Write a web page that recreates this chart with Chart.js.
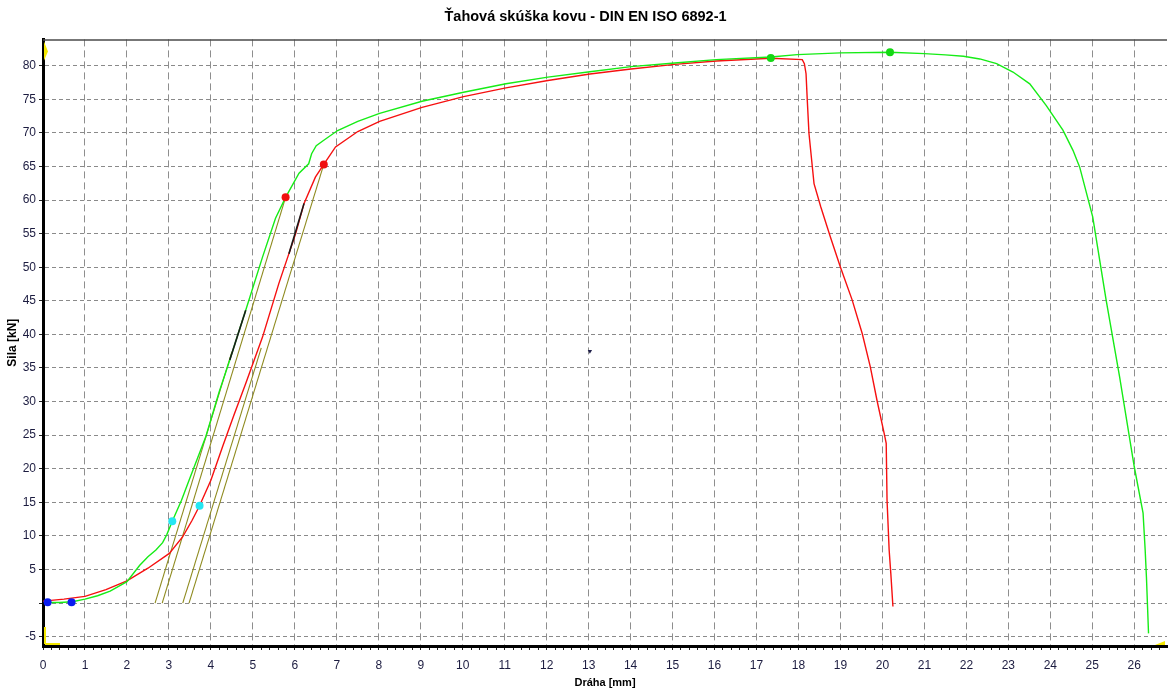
<!DOCTYPE html>
<html>
<head>
<meta charset="utf-8">
<title>Ťahová skúška kovu</title>
<script src="https://cdn.jsdelivr.net/npm/chart.js@4.4.1/dist/chart.umd.min.js"></script>
<style>
  html, body { margin: 0; padding: 0; background: #fff; }
  #wrap { width: 1171px; height: 691px; }
</style>
</head>
<body>
<div id="wrap"><canvas id="chart" width="1171" height="691"></canvas></div>
<script>
// Tensile test, two specimens

const titleText = 'Ťahová skúška kovu - DIN EN ISO 6892-1';
const xTitle = 'Dráha [mm]';
const yTitle = 'Sila [kN]';

// specimen 1 (green)
const greenX = [0.05, 0.4, 0.7, 1.0, 1.3, 1.6, 2.0, 2.3, 2.5, 2.69, 2.85, 2.95, 3.08, 3.3, 3.48, 3.88,
  4.2, 4.45, 4.67, 4.83, 5.23, 5.54, 5.78, 6.1, 6.33, 6.4, 6.51, 6.69, 7.02, 7.5, 8.02, 9.03, 10.02,
  11.03, 12.03, 13.03, 14.01, 15.05, 16.04, 17.34, 17.97, 19.0, 20.18, 21.0, 21.5, 21.93, 22.32, 22.72,
  23.11, 23.51, 23.9, 24.3, 24.54, 24.7, 25.01, 25.33, 25.65, 26.0, 26.21, 26.26, 26.29, 26.34];
const greenY = [0.1, 0.1, 0.2, 0.6, 1.1, 1.8, 3.2, 5.6, 6.9, 7.9, 9.0, 10.2, 12.2, 15.3, 18.3, 24.8,
  31.5, 36.2, 40.5, 43.6, 51.5, 57.3, 60.4, 64.0, 65.4, 66.9, 68.1, 68.9, 70.35, 71.7, 72.9, 74.7, 76.05,
  77.3, 78.3, 79.1, 79.85, 80.4, 80.9, 81.3, 81.65, 81.9, 82.0, 81.8, 81.6, 81.4, 81.0, 80.3,
  79.05, 77.3, 74.1, 70.4, 67.4, 64.9, 57.5, 45.1, 33.7, 20.3, 13.4, 7.9, 3.9, -4.5];

// specimen 2 (red)
const redX = [0.0, 0.5, 1.0, 1.5, 2.0, 2.5, 3.01, 3.33, 3.55, 3.73, 4.0, 4.28, 4.55, 4.83, 5.23, 5.62,
  6.02, 6.22, 6.49, 6.69, 6.97, 7.5, 8.02, 9.03, 10.02, 11.03, 12.03, 13.03, 14.01, 15.05, 16.04, 17.34,
  18.09, 18.14, 18.18, 18.21, 18.25, 18.37, 18.53, 18.76, 19.0, 19.28, 19.52, 19.71, 19.87, 20.04, 20.09,
  20.11, 20.16, 20.2, 20.25];
const redY = [0.3, 0.6, 1.0, 2.0, 3.3, 5.2, 7.4, 9.9, 12.3, 14.5, 18.3, 23.3, 28.0, 32.7, 39.6, 47.6,
  55.0, 59.5, 63.4, 65.3, 67.9, 70.2, 71.7, 73.8, 75.4, 76.7, 77.8, 78.75, 79.5, 80.2, 80.7, 81.1,
  80.9, 80.3, 78.8, 74.8, 69.9, 62.45, 59.0, 54.5, 50.0, 45.1, 40.1, 35.2, 30.2, 25.3, 23.8,
  15.3, 7.9, 4.4, -0.5];

// offset (modulus) lines: start on zero force, end point
const offsetStartX = [2.67, 2.84, 3.33, 3.48];
const offsetEndX = [4.5, 5.78, 5.2, 6.69];
const offsetEndY = [37.4, 60.4, 38.0, 65.3];

// black fit segments on the elastic part
const fitX0 = [4.45, 5.86];
const fitY0 = [36.2, 52.0];
const fitX1 = [4.83, 6.22];
const fitY1 = [43.6, 59.5];

// evaluation points
const blueX = [0.11, 0.68], blueY = [0.15, 0.15];
const cyanX = [3.08, 3.73], cyanY = [12.2, 14.5];
const redMarkX = [5.78, 6.69], redMarkY = [60.4, 65.3];
const greenMarkX = [17.34, 20.18], greenMarkY = [81.15, 82.0];
const cursorX = [13.03], cursorY = [37.5];

// axis ranges and ticks
const xMin = 0, xMax = 26.78, xStep = 1, xMinor = 0.2;
const yMin = -6.38, yMax = 83.91, yStep = 5;

const pts = (xs, ys) => xs.map((x, i) => ({ x: x, y: ys[i] }));
const onStep = (v, s) => Math.abs(v / s - Math.round(v / s)) < 1e-6;

const markers = (xs, ys, color) => ({
  data: pts(xs, ys), showLine: false, pointRadius: 4, pointHoverRadius: 4,
  pointBackgroundColor: color, pointBorderColor: color, pointBorderWidth: 0
});
const segment = (x0, y0, x1, y1, color, width) => ({
  data: [{ x: x0, y: y0 }, { x: x1, y: y1 }], showLine: true, pointRadius: 0,
  borderColor: color, borderWidth: width
});

const datasets = [];
datasets.push({ data: pts(cursorX, cursorY), showLine: false, pointStyle: 'triangle', rotation: 180,
  pointRadius: 2.5, pointBackgroundColor: '#20204a', pointBorderColor: '#20204a', pointBorderWidth: 0 });
datasets.push(markers(blueX, blueY, '#0a1cf0'));
datasets.push(markers(cyanX, cyanY, '#24e6f2'));
datasets.push(markers(redMarkX, redMarkY, '#f01010'));
datasets.push(markers(greenMarkX, greenMarkY, '#14d814'));
fitX0.forEach((x, i) => datasets.push(segment(x, fitY0[i], fitX1[i], fitY1[i], '#1a1a1a', 1.6)));
datasets.push({ data: pts(greenX, greenY), showLine: true, pointRadius: 0, borderColor: '#16ec16', borderWidth: 1.4 });
datasets.push({ data: pts(redX, redY), showLine: true, pointRadius: 0, borderColor: '#f61010', borderWidth: 1.4 });
offsetStartX.forEach((x, i) => datasets.push(segment(x, 0, offsetEndX[i], offsetEndY[i], '#8e8a1e', 1.1)));

// thin frame on top + the little yellow axis arrows
const frame = {
  id: 'frame',
  afterDraw(chart) {
    const { ctx, chartArea: a } = chart;
    ctx.save();
    ctx.strokeStyle = '#4a4a4a';
    ctx.lineWidth = 1.5;
    ctx.beginPath();
    ctx.moveTo(a.left, a.top + 0.5);
    ctx.lineTo(a.right, a.top + 0.5);
    ctx.stroke();

    ctx.fillStyle = '#f4e800';
    ctx.beginPath();
    ctx.moveTo(a.left + 1, a.top + 2);
    ctx.lineTo(a.left + 5, a.top + 12);
    ctx.lineTo(a.left + 1, a.top + 21);
    ctx.closePath();
    ctx.fill();
    ctx.fillRect(a.left + 1, a.bottom - 19, 2, 17);
    ctx.fillRect(a.left + 2, a.bottom - 3, 15, 2);
    ctx.beginPath();
    ctx.moveTo(a.right - 12, a.bottom - 1);
    ctx.lineTo(a.right - 2, a.bottom - 5);
    ctx.lineTo(a.right - 2, a.bottom - 1);
    ctx.closePath();
    ctx.fill();
    ctx.restore();
  }
};

const tickFont = { family: "'Liberation Sans Narrow', 'Liberation Sans', Arial, sans-serif", size: 12 };

new Chart(document.getElementById('chart'), {
  type: 'scatter',
  data: { datasets: datasets },
  plugins: [frame],
  options: {
    responsive: false,
    animation: false,
    layout: { padding: { left: 0, right: 0, top: 0, bottom: 0 } },
    plugins: {
      legend: { display: false },
      tooltip: { enabled: false },
      title: {
        display: true, text: titleText, color: '#000',
        font: { family: "'Liberation Sans', Arial, sans-serif", size: 14.5, weight: 'bold' },
        padding: { top: 8, bottom: 14 }
      }
    },
    scales: {
      x: {
        type: 'linear', min: xMin, max: xMax,
        afterBuildTicks: s => { s.ticks = s.ticks.filter(t => onStep(t.value, xMinor)); },
        afterFit: s => { s.height = 45; },
        ticks: {
          stepSize: xMinor, includeBounds: false, autoSkip: false, maxRotation: 0, padding: 8,
          color: '#1c1c40', font: tickFont,
          callback: v => onStep(v, xStep) ? String(Math.round(v)) : ''
        },
        grid: {
          color: c => (c.tick && onStep(c.tick.value, xStep)) ? '#8e8e8e' : 'rgba(0,0,0,0)',
          tickColor: '#222', tickLength: 4, lineWidth: 1
        },
        border: { display: true, color: '#000', width: 3, dash: [7, 4] },
        title: {
          display: true, text: xTitle, color: '#000',
          font: { family: "'Liberation Sans', Arial, sans-serif", size: 11, weight: 'bold' },
          padding: { top: 0, bottom: 1.5 }
        }
      },
      y: {
        type: 'linear', min: yMin, max: yMax,
        afterBuildTicks: s => { s.ticks = s.ticks.filter(t => onStep(t.value, yStep)); },
        afterFit: s => { s.width = 43; },
        ticks: {
          stepSize: yStep, includeBounds: false, padding: 3, color: '#1c1c40', font: tickFont,
          callback: v => Math.abs(v) < 1e-9 ? '' : String(Math.round(v))
        },
        grid: { color: '#8a8a8a', tickColor: '#222', tickLength: 4, lineWidth: 1 },
        border: { display: true, color: '#000', width: 3, dash: [4, 3] },
        title: {
          display: true, text: yTitle, color: '#000',
          font: { family: "'Liberation Sans', Arial, sans-serif", size: 12, weight: 'bold' },
          padding: { top: 5, bottom: 0 }
        }
      }
    }
  }
});
</script>
</body>
</html>
